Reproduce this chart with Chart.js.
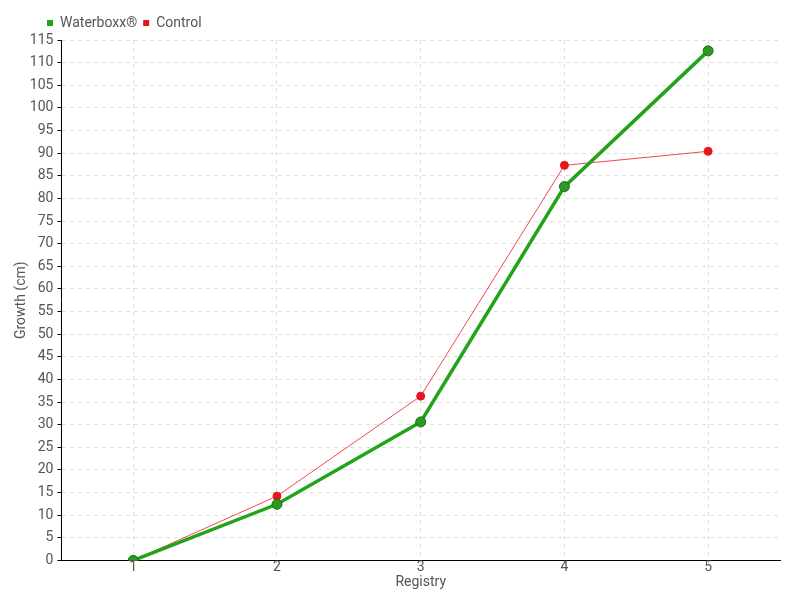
<!DOCTYPE html>
<html>
<head>
<meta charset="utf-8">
<script src="https://cdn.jsdelivr.net/npm/chart.js@4"></script>
<style>
    html, body { margin: 0; padding: 0; background: #fff; }
    #wrap { width: 800px; height: 600px; }
</style>
</head>
<body>
<div id="wrap"><canvas id="growth-chart" width="800" height="600"></canvas></div>
<script>
var registry = ['1', '2', '3', '4', '5'];
var waterboxx = [0, 12.4, 30.6, 82.6, 112.6];
var control = [0, 14.2, 36.3, 87.3, 90.4];
var yTicksMax = 115;

Chart.defaults.font.family = "Roboto, sans-serif";
Chart.defaults.font.size = 14;
Chart.defaults.color = '#555';

// push the legend right, over the plot area
var legendShift = {
    id: 'legendShift',
    afterLayout: function(chart) {
        chart.legend.left += 28;
        chart.legend.right += 28;
    }
};

var growthChart = new Chart(document.getElementById('growth-chart'), {
    type: 'line',
    data: {
        labels: registry,
        datasets: [{
            label: 'Waterboxx®',
            data: waterboxx,
            borderColor: '#22a31a',
            backgroundColor: '#22a31a',
            borderWidth: 3.5,
            pointRadius: 5,
            pointBackgroundColor: '#2a9a22',
            pointBorderColor: '#1b6e16',
            pointBorderWidth: 1,
            lineTension: 0
        }, {
            label: 'Control',
            data: control,
            borderColor: 'rgba(240,40,50,0.85)',
            backgroundColor: '#e8141e',
            borderWidth: 1,
            pointRadius: 4,
            pointBackgroundColor: '#e8141e',
            pointBorderColor: '#e8141e',
            lineTension: 0
        }]
    },
    plugins: [legendShift],
    options: {
        responsive: false,
        animation: false,
        layout: { padding: { left: 13, right: 20, top: 10, bottom: 7 } },
        plugins: {
            legend: {
                position: 'top',
                align: 'start',
                labels: {
                    boxWidth: 6,
                    boxHeight: 6,
                    padding: 6,
                    font: { size: 14 },
                    generateLabels: function(chart) {
                        return chart.data.datasets.map(function(ds, i) {
                            return {
                                text: ds.label,
                                fillStyle: ds.backgroundColor,
                                strokeStyle: ds.backgroundColor,
                                lineWidth: 0,
                                datasetIndex: i,
                                fontColor: '#555'
                            };
                        });
                    }
                }
            },
            tooltip: { enabled: false }
        },
        scales: {
            x: {
                offset: true,
                grid: {
                    color: '#ddd',
                    tickColor: '#ccc',
                    tickLength: 3,
                    offset: false
                },
                border: { color: '#000', dash: [4, 4] },
                ticks: { padding: -4 },
                title: { display: true, text: 'Registry', padding: { top: 2, bottom: 2 } }
            },
            y: {
                min: 0,
                max: yTicksMax,
                grid: {
                    color: '#ddd',
                    tickColor: '#000',
                    tickLength: 4
                },
                border: { color: '#000', dash: [4, 4] },
                ticks: { stepSize: 5, padding: 4 },
                title: { display: true, text: 'Growth (cm)', padding: { top: 0, bottom: -4 } }
            }
        }
    }
});
</script>
</body>
</html>
